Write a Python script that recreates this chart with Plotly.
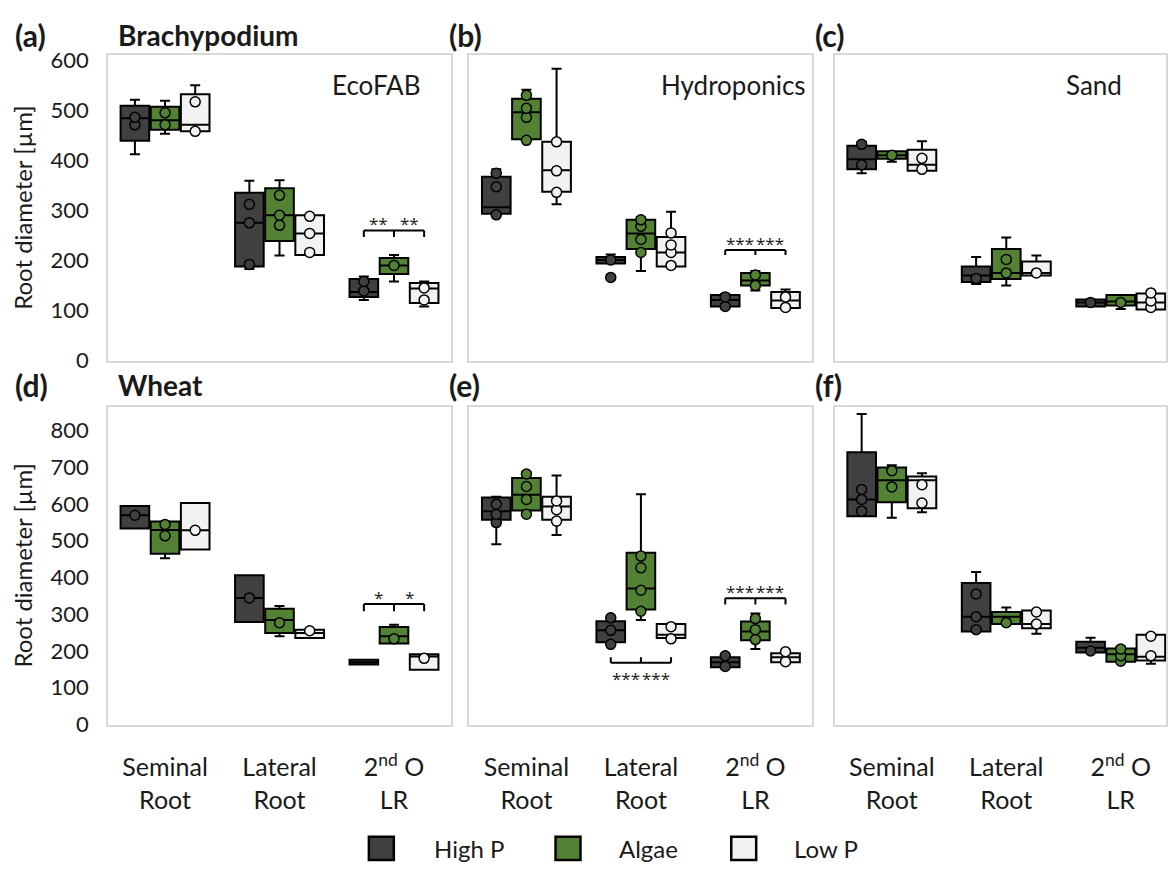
import plotly.graph_objects as go

W, H = 1168, 874
FONT = "Lato"
TXT = "#1a1a1a"

categories = ["Seminal<br>Root", "Lateral<br>Root", "2<sup>nd</sup> O<br>LR"]
groups = ["High P", "Algae", "Low P"]
fill_colors = ["#404040", "#548235", "#f2f2f2"]

# ---------------- Brachypodium ----------------
# (a) EcoFAB
a_highp = dict(lower=[411, 182, 120], q1=[438, 187, 126], median=[483, 274, 136],
               q3=[508, 334, 162], upper=[520, 358, 167],
               points=[[485, 470], [311, 274, 191], [157, 138]])
a_algae = dict(lower=[452, 209, 157], q1=[460, 238, 172], median=[479, 289, 189],
               q3=[506, 343, 204], upper=[518, 359, 210],
               points=[[494, 470], [329, 289, 269], [189]])
a_lowp = dict(lower=[457, 210, 107], q1=[457, 210, 114], median=[470, 253, 143],
              q3=[531, 289, 154], upper=[549, 289, 157],
              points=[[516, 457], [287, 253, 215], [144, 120]])
# (b) Hydroponics
b_highp = dict(lower=[291, 193, 105], q1=[292, 193, 107], median=[305, 200, 120],
               q3=[366, 206, 130], upper=[381, 211, 132],
               points=[[373, 346, 290], [200, 165], [126, 107]])
b_algae = dict(lower=[439, 178, 139], q1=[441, 222, 149], median=[495, 253, 159],
               q3=[522, 280, 174], upper=[540, 285, 178],
               points=[[529, 503, 485, 439], [280, 267, 241, 215], [170, 149]])
b_lowp = dict(lower=[311, 187, 104], q1=[336, 187, 104], median=[379, 215, 119],
              q3=[436, 246, 136], upper=[582, 296, 141],
              points=[[436, 378, 335], [254, 230, 215, 189], [126, 105]])
# (c) Sand
c_highp = dict(lower=[373, 152, 107], q1=[381, 156, 107], median=[401, 169, 115],
               q3=[428, 187, 121], upper=[436, 206, 121],
               points=[[431, 390], [163], [115]])
c_algae = dict(lower=[396, 149, 102], q1=[402, 162, 109], median=[409, 174, 117],
               q3=[417, 222, 130], upper=[417, 245, 130],
               points=[[409], [201, 174], [115]])
c_lowp = dict(lower=[378, 169, 101], q1=[378, 169, 101], median=[390, 174, 115],
              q3=[420, 197, 133], upper=[437, 209, 133],
              points=[[403, 381], [174], [134, 118, 105]])

# ---------------- Wheat ----------------
# (d) EcoFAB
d_highp = dict(lower=[533, 279, 163], q1=[533, 279, 163], median=[569, 344, 169],
               q3=[594, 406, 176], upper=[594, 406, 176],
               points=[[569], [344], []])
d_algae = dict(lower=[452, 240, 220], q1=[464, 249, 220], median=[529, 284, 240],
               q3=[552, 315, 265], upper=[552, 322, 271],
               points=[[544, 513], [277], [233]])
d_lowp = dict(lower=[476, 235, 149], q1=[476, 235, 149], median=[528, 249, 185],
              q3=[602, 258, 191], upper=[602, 258, 191],
              points=[[528], [255], [180]])
# (e) Hydroponics
e_highp = dict(lower=[490, 218, 156], q1=[557, 224, 156], median=[580, 256, 169],
               q3=[617, 281, 183], upper=[619, 290, 187],
               points=[[599, 571, 549], [290, 256, 218], [187, 158]])
e_algae = dict(lower=[572, 284, 205], q1=[582, 313, 229], median=[625, 370, 253],
               q3=[670, 467, 280], upper=[685, 626, 302],
               points=[[681, 647, 612, 572], [458, 426, 365, 308], [288, 258, 231]])
e_lowp = dict(lower=[515, 233, 169], q1=[557, 235, 169], median=[593, 244, 183],
              q3=[619, 273, 194], upper=[677, 273, 198],
              points=[[608, 584, 553], [266, 233], [198, 171]])
# (f) Sand
f_highp = dict(lower=[566, 253, 196], q1=[566, 253, 196], median=[612, 293, 209],
               q3=[740, 385, 225], upper=[844, 415, 236],
               points=[[639, 612, 580], [355, 293, 258], [200]])
f_algae = dict(lower=[562, 273, 171], q1=[604, 273, 171], median=[664, 293, 191],
               q3=[699, 306, 207], upper=[705, 318, 212],
               points=[[690, 646], [277], [205, 187, 172]])
f_lowp = dict(lower=[577, 247, 165], q1=[588, 262, 174], median=[664, 273, 184],
              q3=[674, 310, 244], upper=[683, 310, 244],
              points=[[652, 602], [306, 273], [240, 187]])

panel_letters = ["(a)", "(b)", "(c)", "(d)", "(e)", "(f)"]
panel_media = ["EcoFAB", "Hydroponics", "Sand", "", "", ""]
row_titles = ["Brachypodium", "Wheat"]
panel_data = [[a_highp, a_algae, a_lowp], [b_highp, b_algae, b_lowp], [c_highp, c_algae, c_lowp],
              [d_highp, d_algae, d_lowp], [e_highp, e_algae, e_lowp], [f_highp, f_algae, f_lowp]]
row_ranges = [[-2, 610], [0, 864]]
y_title = "Root diameter [µm]"

# significance: (panel index, category index, bracket y, tick end y, label)
sig_panel = [0, 1, 3, 4, 4]
sig_cat = [2, 2, 2, 1, 2]
sig_y = [259, 220, 328, 168, 343]
sig_tick = [246, 210, 308, 183, 326]
sig_label = ["**", "***", "*", "***", "***"]

# ---------------- layout geometry (pixels) ----------------
col_px = [(108, 452), (470, 813), (836, 1168)]
row_px = [(47, 361), (408, 734)]
cat_px = (452 - 108) / 3.0
BOXGAP = 0.21
BOXGROUPGAP = 0.05
slot = (1 - BOXGAP) / 3.0


def px_x(x):
    return x / W


def px_y(y):
    return 1 - y / H


fig = go.Figure()
layout = dict(
    width=W, height=H, margin=dict(l=0, r=0, t=0, b=0),
    paper_bgcolor="white", plot_bgcolor="white",
    boxmode="group", boxgap=BOXGAP, boxgroupgap=BOXGROUPGAP,
    showlegend=False, font=dict(family=FONT, color=TXT),
)

shapes = []
annotations = []

for p in range(6):
    r, c = divmod(p, 3)
    ax = "" if p == 0 else str(p + 1)
    x0, x1 = col_px[c]
    y0, y1 = row_px[r]
    xr = [-0.5, -0.5 + (x1 - x0) / cat_px]
    layout["xaxis" + ax] = dict(
        domain=[px_x(x0), min(1.0, px_x(x1))], anchor="y" + ax,
        type="category", categoryorder="array", categoryarray=categories,
        range=xr, showgrid=False, zeroline=False,
        showline=True, mirror=True, linecolor="#d9d9d9", linewidth=1.5,
        showticklabels=(r == 1), ticks="outside" if r == 1 else "", ticklen=20,
        tickcolor="rgba(0,0,0,0)", tickfont=dict(family=FONT, size=25, color=TXT),
    )
    layout["yaxis" + ax] = dict(
        domain=[px_y(y1), px_y(y0)], anchor="x" + ax,
        range=row_ranges[r], dtick=100, tick0=0, showgrid=False, zeroline=False,
        showline=True, mirror=True, linecolor="#d9d9d9", linewidth=1.5,
        showticklabels=(c == 0), ticks="outside" if c == 0 else "", ticklen=13,
        tickcolor="rgba(0,0,0,0)", tickfont=dict(family=FONT, size=22, color=TXT),
    )
    for g in range(3):
        d = panel_data[p][g]
        fig.add_trace(go.Box(
            x=categories, q1=d["q1"], median=d["median"], q3=d["q3"],
            lowerfence=d["lower"], upperfence=d["upper"], y=d["points"],
            name=groups[g], offsetgroup=groups[g],
            xaxis="x" + ax, yaxis="y" + ax,
            fillcolor=fill_colors[g], line=dict(color="black", width=2),
            whiskerwidth=0.35, boxpoints="all", jitter=0, pointpos=0,
            marker=dict(color=fill_colors[g], size=10, line=dict(color="black", width=1.5)),
            showlegend=False,
        ))
    # panel letter
    annotations.append(dict(
        text="<b>%s</b>" % panel_letters[p], xref="paper", yref="paper",
        x=px_x(13 if c == 0 else x0 - 22), y=px_y(27 if r == 0 else 386),
        xanchor="left", yanchor="middle", showarrow=False,
        font=dict(family=FONT, size=30, color=TXT)))
    if panel_media[p]:
        annotations.append(dict(
            text=panel_media[p], xref="paper", yref="paper",
            x=px_x(x1 - 28 if c == 0 else (x1 - 4 if c == 1 else 1126)), y=px_y(78),
            xanchor="right", yanchor="middle", showarrow=False,
            font=dict(family=FONT, size=26, color=TXT)))

for r in range(2):
    y0, y1 = row_px[r]
    annotations.append(dict(
        text="<b>%s</b>" % row_titles[r], xref="paper", yref="paper",
        x=px_x(116), y=px_y(27 if r == 0 else 386), xanchor="left", yanchor="middle",
        showarrow=False, font=dict(family=FONT, size=28, color=TXT)))
    annotations.append(dict(
        text=y_title, xref="paper", yref="paper", textangle=-90,
        x=px_x(23), y=px_y((y0 + y1) / 2), xanchor="center", yanchor="middle",
        showarrow=False, font=dict(family=FONT, size=24, color=TXT)))

# significance brackets
for k in range(len(sig_panel)):
    p = sig_panel[k]
    ax = "" if p == 0 else str(p + 1)
    cc = sig_cat[k]
    xs = [cc - slot, cc, cc + slot]
    yl, yt = sig_y[k], sig_tick[k]
    ln = dict(color="black", width=2)
    shapes.append(dict(type="line", xref="x" + ax, yref="y" + ax,
                       x0=xs[0], x1=xs[2], y0=yl, y1=yl, line=ln))
    for xv in xs:
        shapes.append(dict(type="line", xref="x" + ax, yref="y" + ax,
                           x0=xv, x1=xv, y0=yl, y1=yt, line=ln))
    below = yt > yl
    for xm in [(xs[0] + xs[1]) / 2, (xs[1] + xs[2]) / 2]:
        annotations.append(dict(
            text=sig_label[k], xref="x" + ax, yref="y" + ax, x=xm, y=yl,
            xanchor="center", yanchor="top" if below else "bottom",
            yshift=-3 if below else -6, showarrow=False, borderpad=0,
            font=dict(family="Open Sans", size=17, color=TXT)))

# legend (drawn manually)
leg_x_sq = [382, 569, 745]
leg_x_txt = [433, 618, 793]
leg_y = 861
for g in range(3):
    shapes.append(dict(type="rect", xref="paper", yref="paper",
                       x0=px_x(leg_x_sq[g] - 12.5), x1=px_x(leg_x_sq[g] + 12.5),
                       y0=px_y(leg_y + 12), y1=px_y(leg_y - 12),
                       fillcolor=fill_colors[g], line=dict(color="black", width=2.5)))
    annotations.append(dict(
        text=groups[g], xref="paper", yref="paper", x=px_x(leg_x_txt[g]), y=px_y(leg_y),
        xanchor="left", yanchor="middle", showarrow=False,
        font=dict(family=FONT, size=24, color=TXT)))

layout["shapes"] = shapes
layout["annotations"] = annotations
fig.update_layout(**layout)
fig.write_html("out.html")
